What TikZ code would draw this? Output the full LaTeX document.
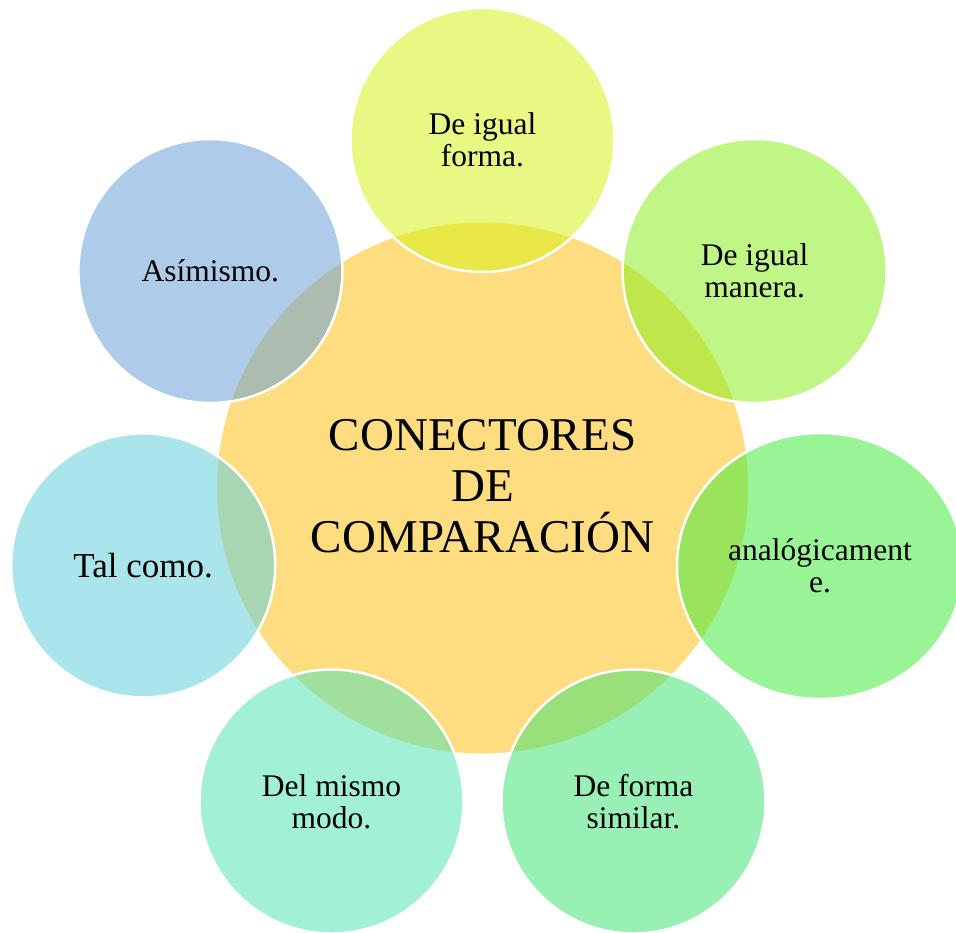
\documentclass[tikz,border=0pt]{standalone}
\usepackage{fontspec}
\setmainfont{Liberation Serif}
\usetikzlibrary{shapes.geometric}
\definecolor{cmain}{RGB}{254,221,128}
\definecolor{ca}{RGB}{215,244,28}
\definecolor{cb}{RGB}{140,240,35}
\definecolor{cc}{RGB}{71,235,64}
\definecolor{cd}{RGB}{71,228,119}
\definecolor{ce}{RGB}{86,228,180}
\definecolor{cf}{RGB}{100,209,220}
\definecolor{cg}{RGB}{108,162,217}
\tikzset{
  hub/.style={circle, fill=cmain, minimum size=531pt, inner sep=0pt},
  hubtext/.style={align=center, font=\fontsize{47}{51}\selectfont, inner sep=0pt},
  spoke/.style={circle, fill=#1, fill opacity=0.55, text opacity=1, draw=white, line width=2.5pt, minimum size=264pt, inner sep=0pt, align=center, font=\fontsize{31.5}{32}\selectfont},
  wide/.style={ellipse, minimum width=286pt, minimum height=266pt},
}
\begin{document}
\begin{tikzpicture}[x=1pt,y=-1pt]
\useasboundingbox (0,0) rectangle (956,932);
\fill[white] (0,0) rectangle (956,932);
\node[hub] (hub) at (482.5,488) {};
\node[spoke=ca] (s1) at (482.5,140) {De igual\\forma.};
\node[spoke=cb] (s2) at (754.6,271) {De igual\\manera.};
\node[spoke=cc, wide] (s3) at (820,566) {analógicament\\e.};
\node[spoke=cd] (s4) at (633.5,801.5) {De forma\\similar.};
\node[spoke=ce] (s5) at (331.5,801.5) {Del mismo\\modo.};
\node[spoke=cf, font=\fontsize{35}{40}\selectfont] (s6) at (143.2,565.4) {Tal como.};
\node[spoke=cg] (s7) at (210.4,271) {Asímismo.};
\node[hubtext] (title) at (482.5,486) {CONECTORES\\DE\\COMPARACIÓN};
\end{tikzpicture}
\end{document}
